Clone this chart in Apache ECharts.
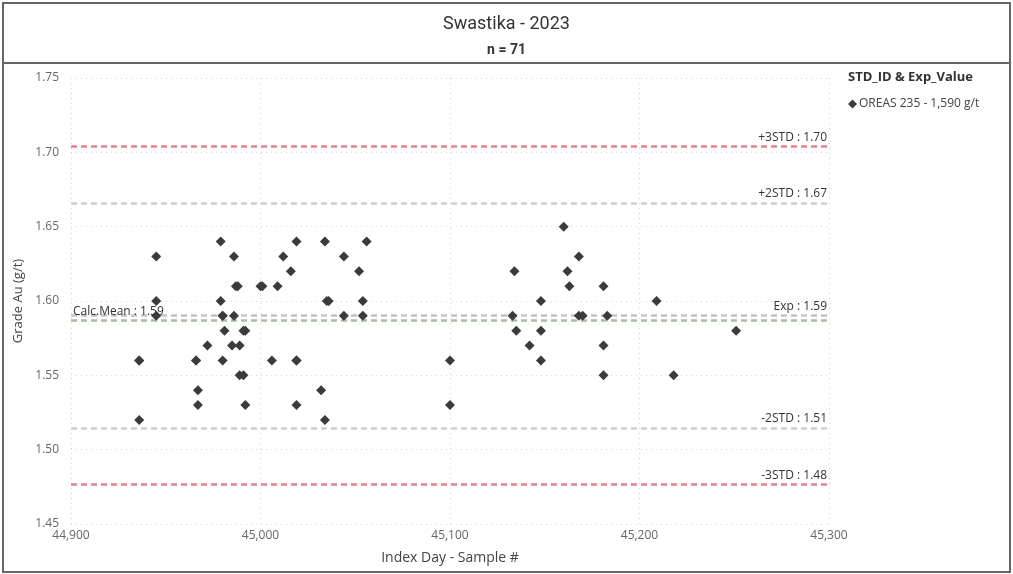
<!DOCTYPE html>
<html>
<head>
<meta charset="utf-8">
<script src="https://cdn.jsdelivr.net/npm/echarts@6/dist/echarts.min.js"></script>
<style>
html,body{margin:0;padding:0;background:#fff;}
#c{width:1013px;height:574px;}
</style>
</head>
<body>
<div id="c"></div>
<script>
var chartTitle = 'Swastika - 2023';
var chartSubtitle = 'n = 71';
var seriesName = 'OREAS 235 - 1,590 g/t';
var legendTitle = 'STD_ID & Exp_Value';

var indexDays = [
  44936, 44936, 44936, 44945, 44945, 44945, 44966, 44966, 44967, 44967,
  44972, 44979, 44979, 44980, 44980, 44981, 44980, 44986, 44986, 44985,
  44989, 44987, 44988, 44989, 44991, 44991, 44992, 44992, 45000, 45001,
  45009, 45006, 45012, 45016, 45019, 45019, 45019, 45019, 45032, 45034,
  45034, 45035, 45036, 45044, 45044, 45052, 45054, 45054, 45056, 45100,
  45100, 45133, 45134, 45135, 45142, 45148, 45148, 45148, 45160, 45162,
  45163, 45168, 45168, 45170, 45181, 45183, 45181, 45181, 45209, 45218,
  45251
];
var grades = [
  1.56, 1.56, 1.52, 1.63, 1.60, 1.59, 1.56, 1.56, 1.54, 1.53,
  1.57, 1.64, 1.60, 1.59, 1.59, 1.58, 1.56, 1.63, 1.59, 1.57,
  1.57, 1.61, 1.61, 1.55, 1.55, 1.58, 1.58, 1.53, 1.61, 1.61,
  1.61, 1.56, 1.63, 1.62, 1.64, 1.56, 1.56, 1.53, 1.54, 1.64,
  1.52, 1.60, 1.60, 1.63, 1.59, 1.62, 1.60, 1.59, 1.64, 1.56,
  1.53, 1.59, 1.62, 1.58, 1.57, 1.60, 1.58, 1.56, 1.65, 1.62,
  1.61, 1.63, 1.59, 1.59, 1.61, 1.59, 1.57, 1.55, 1.60, 1.55,
  1.58
];

var refLabels = ['+3STD : 1.70', '+2STD : 1.67', 'Exp : 1.59', 'Calc.Mean : 1.59', '-2STD : 1.51', '-3STD : 1.48'];
var refValues = [1.704, 1.666, 1.5905, 1.5868, 1.5146, 1.4765];
var refColors = ['#e8828a', '#cfcfcf', '#c4c4c4', '#a9bf9f', '#cfcfcf', '#e8828a'];
var refLabelPos = ['insideEndTop', 'insideEndTop', 'insideEndTop', 'insideStartTop', 'insideEndTop', 'insideEndTop'];

var xTicks = { min: 44900, max: 45300, interval: 100 };
var yTicks = { min: 1.45, max: 1.75, interval: 0.05 };

var points = indexDays.map(function (d, i) { return [d, grades[i]]; });

var markData = refValues.map(function (v, i) {
  return {
    yAxis: v,
    lineStyle: { color: refColors[i], type: [6, 4], width: 2.5 },
    label: {
      show: true,
      formatter: refLabels[i],
      position: refLabelPos[i],
      color: '#333',
      fontSize: 12,
      fontFamily: 'Open Sans',
      distance: [2, 3]
    }
  };
});

var chart = echarts.init(document.getElementById('c'), null, { renderer: 'canvas' });
var font = 'Open Sans';
chart.setOption({
  animation: false,
  backgroundColor: '#fff',
  textStyle: { fontFamily: font },
  title: [
    { text: chartTitle, left: 'center', top: 10, textStyle: { fontSize: 18, fontWeight: 'normal', color: '#333', fontFamily: 'Roboto' } },
    { text: chartSubtitle, left: 'center', top: 38, textStyle: { fontSize: 14, fontWeight: 'bold', color: '#333', fontFamily: 'Roboto' } }
  ],
  graphic: [
    { type: 'rect', shape: { x: 3, y: 3, width: 1007, height: 60 }, style: { fill: 'none', stroke: '#666', lineWidth: 2 }, silent: true },
    { type: 'rect', shape: { x: 3, y: 63, width: 1007, height: 509 }, style: { fill: 'none', stroke: '#666', lineWidth: 2 }, silent: true },
    { type: 'text', left: 848, top: 71, style: { text: legendTitle, fontSize: 13, fontWeight: 'bold', fill: '#333', fontFamily: font } }
  ],
  legend: {
    data: [seriesName],
    left: 843,
    top: 93,
    icon: 'diamond',
    itemWidth: 9,
    itemHeight: 9,
    itemGap: 4,
    textStyle: { color: '#444', fontSize: 12, fontFamily: font, padding: [0, 0, 0, -3] }
  },
  grid: { left: 71, right: 184, top: 78, bottom: 50, containLabel: false },
  xAxis: {
    type: 'value',
    min: xTicks.min, max: xTicks.max, interval: xTicks.interval,
    name: 'Index Day - Sample #',
    nameLocation: 'middle',
    nameGap: 27,
    nameTextStyle: { fontSize: 14, color: '#444', fontFamily: font },
    axisLine: { show: false },
    axisTick: { show: false },
    axisLabel: {
      color: '#666', fontSize: 12, margin: 6,
      formatter: function (v) { return v.toLocaleString('en-US'); }
    },
    splitLine: { show: true, lineStyle: { color: '#d6d6d6', type: [1, 4], width: 1.2 } }
  },
  yAxis: {
    type: 'value',
    min: yTicks.min, max: yTicks.max, interval: yTicks.interval,
    name: 'Grade Au (g/t)',
    nameLocation: 'middle',
    nameGap: 46,
    nameTextStyle: { fontSize: 13, color: '#444', fontFamily: font },
    axisLine: { show: false },
    axisTick: { show: false },
    axisLabel: {
      color: '#666', fontSize: 12, margin: 12,
      formatter: function (v) { return v.toFixed(2); }
    },
    splitLine: { show: true, lineStyle: { color: '#d6d6d6', type: [1, 4], width: 1.2 } }
  },
  series: [{
    name: seriesName,
    type: 'scatter',
    data: points,
    symbol: 'diamond',
    symbolSize: 10,
    itemStyle: { color: '#3b3b3b', opacity: 1 },
    z: 3,
    markLine: {
      silent: true,
      precision: 4,
      symbol: ['none', 'none'],
      z: 2,
      data: markData
    }
  }]
});
</script>
</body>
</html>
